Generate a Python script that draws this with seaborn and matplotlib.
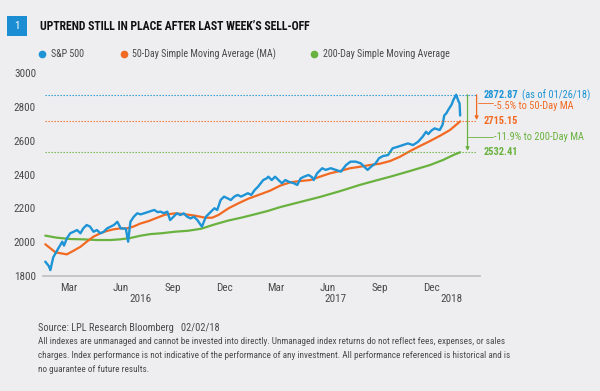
import pandas as pd
import seaborn as sns
import matplotlib.pyplot as plt
from matplotlib.lines import Line2D
from matplotlib.patches import Rectangle
import matplotlib.transforms as mtransforms

# S&P 500
spx_dates = ['2016-02-02', '2016-02-08', '2016-02-11', '2016-02-16', '2016-02-20', '2016-02-25', '2016-03-03',
             '2016-03-06', '2016-03-11', '2016-03-17', '2016-03-23', '2016-03-29', '2016-04-04', '2016-04-09',
             '2016-04-15', '2016-04-21', '2016-04-27', '2016-05-03', '2016-05-09', '2016-05-15', '2016-05-21',
             '2016-05-27', '2016-06-02', '2016-06-08', '2016-06-14', '2016-06-23', '2016-06-27', '2016-07-01',
             '2016-07-07', '2016-07-13', '2016-07-19', '2016-07-25', '2016-08-03', '2016-08-12', '2016-08-18',
             '2016-08-23', '2016-08-29', '2016-09-04', '2016-09-09', '2016-09-15', '2016-09-21', '2016-09-27',
             '2016-10-03', '2016-10-09', '2016-10-15', '2016-10-21', '2016-10-27', '2016-11-04', '2016-11-11',
             '2016-11-17', '2016-11-26', '2016-12-01', '2016-12-07', '2016-12-13', '2016-12-19', '2016-12-25',
             '2016-12-31', '2017-01-06', '2017-01-12', '2017-01-18', '2017-01-24', '2017-01-30', '2017-02-05',
             '2017-02-11', '2017-02-20', '2017-02-26', '2017-03-01', '2017-03-07', '2017-03-13', '2017-03-19',
             '2017-03-25', '2017-03-31', '2017-04-06', '2017-04-15', '2017-04-21', '2017-04-27', '2017-05-03',
             '2017-05-11', '2017-05-17', '2017-05-20', '2017-05-26', '2017-06-04', '2017-06-10', '2017-06-19',
             '2017-06-28', '2017-07-07', '2017-07-16', '2017-07-24', '2017-08-02', '2017-08-11', '2017-08-17',
             '2017-08-23', '2017-08-29', '2017-09-06', '2017-09-12', '2017-09-19', '2017-09-28', '2017-10-06',
             '2017-10-15', '2017-10-24', '2017-11-02', '2017-11-11', '2017-11-20', '2017-11-28', '2017-12-04',
             '2017-12-08', '2017-12-13', '2017-12-19', '2017-12-28', '2018-01-02', '2018-01-05', '2018-01-09',
             '2018-01-12', '2018-01-18', '2018-01-21', '2018-01-26', '2018-01-30', '2018-02-01', '2018-02-02']
spx_values = [1885, 1860, 1835, 1910, 1934, 1964, 2003,
              1980, 2023, 2053, 2062, 2072, 2053, 2082,
              2102, 2092, 2062, 2072, 2053, 2062, 2082,
              2092, 2102, 2121, 2082, 2080, 2003, 2121,
              2151, 2171, 2165, 2171, 2181, 2191, 2178,
              2181, 2172, 2181, 2131, 2151, 2171, 2161,
              2171, 2151, 2141, 2151, 2131, 2092, 2151,
              2171, 2201, 2191, 2250, 2270, 2260, 2250,
              2270, 2280, 2270, 2280, 2290, 2280, 2309,
              2329, 2368, 2378, 2388, 2368, 2388, 2368,
              2349, 2368, 2358, 2349, 2339, 2378, 2388,
              2398, 2385, 2368, 2408, 2438, 2428, 2438,
              2428, 2418, 2457, 2477, 2477, 2467, 2447,
              2428, 2447, 2467, 2497, 2510, 2516, 2556,
              2565, 2575, 2585, 2575, 2595, 2625, 2654,
              2640, 2660, 2674, 2664, 2695, 2750, 2765,
              2783, 2815, 2842, 2873, 2835, 2822, 2750]

# 50-day simple moving average
ma50_dates = ['2016-02-02', '2016-02-20', '2016-03-11', '2016-03-23', '2016-04-04', '2016-04-15', '2016-04-27',
              '2016-05-09', '2016-05-20', '2016-06-01', '2016-06-13', '2016-06-25', '2016-07-06', '2016-07-18',
              '2016-08-02', '2016-08-14', '2016-08-31', '2016-09-18', '2016-10-06', '2016-10-23', '2016-11-10',
              '2016-11-22', '2016-12-03', '2016-12-21', '2017-01-07', '2017-01-25', '2017-02-12', '2017-03-04',
              '2017-03-22', '2017-04-09', '2017-04-26', '2017-05-14', '2017-05-31', '2017-06-18', '2017-07-06',
              '2017-07-23', '2017-08-10', '2017-08-27', '2017-09-14', '2017-10-02', '2017-10-19', '2017-11-06',
              '2017-11-24', '2017-12-11', '2017-12-29', '2018-01-15', '2018-01-27', '2018-02-02']
ma50_values = [1988, 1940, 1928, 1950, 1973, 2003, 2033,
               2053, 2066, 2076, 2082, 2082, 2092, 2110,
               2125, 2141, 2163, 2171, 2165, 2157, 2145,
               2145, 2161, 2201, 2230, 2258, 2280, 2305,
               2335, 2355, 2362, 2368, 2388, 2408, 2422,
               2438, 2447, 2457, 2465, 2481, 2506, 2540,
               2571, 2599, 2631, 2664, 2698, 2715.15]

# 200-day simple moving average
ma200_dates = ['2016-02-02', '2016-02-22', '2016-03-17', '2016-04-09', '2016-05-03', '2016-05-27', '2016-06-13',
               '2016-07-01', '2016-07-18', '2016-08-05', '2016-08-25', '2016-09-17', '2016-10-11', '2016-11-03',
               '2016-11-26', '2016-12-20', '2017-01-12', '2017-02-05', '2017-02-28', '2017-03-22', '2017-04-26',
               '2017-05-31', '2017-07-06', '2017-08-10', '2017-09-14', '2017-10-02', '2017-11-06', '2017-12-11',
               '2018-01-03', '2018-01-21', '2018-02-02']
ma200_values = [2039, 2027, 2019, 2017, 2013, 2013, 2017,
                2025, 2038, 2048, 2053, 2062, 2068, 2080,
                2105, 2128, 2145, 2165, 2185, 2208, 2238,
                2268, 2303, 2340, 2372, 2388, 2422, 2457,
                2487, 2516, 2532.41]

tick_dates = ['2016-03-14', '2016-06-14', '2016-09-14', '2016-12-14',
              '2017-03-14', '2017-06-14', '2017-09-14', '2017-12-14']
tick_labels = ['Mar', 'Jun', 'Sep', 'Dec', 'Mar', 'Jun', 'Sep', 'Dec']
year_dates = ['2016-07-18', '2017-06-28', '2018-01-18']
year_labels = ['2016', '2017', '2018']

last_close = 2872.87
last_ma50 = 2715.15
last_ma200 = 2532.41

BG = '#EEEEF0'
BLUE = '#1E94D6'
ORANGE = '#F26A22'
GREEN = '#6AB23F'
GRAY = '#4A4A4A'

sns.set_theme(style='white')
plt.rcParams['font.family'] = ['Roboto Condensed', 'DejaVu Sans']

fig = plt.figure(figsize=(6, 3.91), dpi=100, facecolor=BG)
ax = fig.add_axes([43 / 600, 1 - 276 / 391, (480 - 43) / 600, (276 - 73.3) / 391])
ax.set_facecolor(BG)

spx = pd.DataFrame({'date': pd.to_datetime(spx_dates), 'value': spx_values})
ma50 = pd.DataFrame({'date': pd.to_datetime(ma50_dates), 'value': ma50_values})
ma200 = pd.DataFrame({'date': pd.to_datetime(ma200_dates), 'value': ma200_values})

sns.lineplot(data=ma200, x='date', y='value', color=GREEN, lw=1.6, ax=ax)
sns.lineplot(data=ma50, x='date', y='value', color=ORANGE, lw=1.6, ax=ax)
sns.lineplot(data=spx, x='date', y='value', color=BLUE, lw=1.7, ax=ax)

ax.set_xlim(pd.Timestamp('2016-01-29'), pd.Timestamp('2018-03-09'))
ax.set_ylim(1800, 3000)

# dotted reference levels
first = pd.Timestamp(spx_dates[0])
ref_end = pd.Timestamp('2018-03-04')
for lvl, col in [(last_close, BLUE), (last_ma50, ORANGE), (last_ma200, GREEN)]:
    ax.plot([first, ref_end], [lvl, lvl], color=col, lw=0.8, ls=(0, (1.2, 1.5)), clip_on=False)

# drop arrows and connectors
ax.annotate('', xy=(pd.Timestamp('2018-03-03'), last_ma50 + 8), xytext=(pd.Timestamp('2018-03-03'), last_close),
            arrowprops=dict(arrowstyle='-|>', color=ORANGE, lw=0.9, mutation_scale=5, shrinkA=0, shrinkB=0),
            annotation_clip=False)
ax.annotate('', xy=(pd.Timestamp('2018-02-15'), last_ma200 + 8), xytext=(pd.Timestamp('2018-02-15'), last_close),
            arrowprops=dict(arrowstyle='-|>', color=GREEN, lw=0.9, mutation_scale=5, shrinkA=0, shrinkB=0),
            annotation_clip=False)
ax.plot([pd.Timestamp('2018-03-05'), pd.Timestamp('2018-04-01')], [2822, 2822], color=ORANGE, lw=0.6, clip_on=False)
ax.plot([pd.Timestamp('2018-02-15'), pd.Timestamp('2018-04-01')], [2625, 2625], color=GREEN, lw=0.6, clip_on=False)

lab_x = pd.Timestamp('2018-03-16')
t_close = ax.text(lab_x, last_close, f'{last_close:.2f}', color=BLUE, fontsize=7.5, fontweight='bold', va='center')
ax.annotate('(as of 01/26/18)', xy=(1, 0.5), xycoords=t_close, xytext=(2, 0), textcoords='offset points',
            color=BLUE, fontsize=7.5, va='center')
ax.text(lab_x, last_ma50, f'{last_ma50:.2f}', color=ORANGE, fontsize=7.5, fontweight='bold', va='center')
ax.text(lab_x, last_ma200, f'{last_ma200:.2f}', color=GREEN, fontsize=7.5, fontweight='bold', va='center')
ax.text(pd.Timestamp('2018-04-02'), 2806, '-5.5% to 50-Day MA', color=ORANGE, fontsize=7.5, va='center')
ax.text(pd.Timestamp('2018-04-02'), 2625, '-11.9% to 200-Day MA', color=GREEN, fontsize=7.5, va='center')

# axes styling
for side in ['top', 'right', 'left']:
    ax.spines[side].set_visible(False)
ax.spines['bottom'].set_color('#BDBDBD')
ax.spines['bottom'].set_linewidth(1.2)
ax.set_yticks([1800, 2000, 2200, 2400, 2600, 2800, 3000])
ax.set_yticklabels(['1800', '2000', '2200', '2400', '2600', '2800', '3000'])
ax.set_xticks(pd.to_datetime(tick_dates))
ax.set_xticklabels(tick_labels)
ax.tick_params(axis='both', length=0, labelsize=8, labelcolor=GRAY)
ax.tick_params(axis='y', pad=5)
ax.tick_params(axis='x', pad=5)
ax.set_xlabel('')
ax.set_ylabel('')
trans = mtransforms.blended_transform_factory(ax.transData, ax.transAxes)
for d, lab in zip(year_dates, year_labels):
    ax.text(pd.Timestamp(d), -0.113, lab, transform=trans, ha='center', va='center', fontsize=8, color=GRAY)

# header
fig.add_artist(Rectangle((7 / 600, 1 - 36 / 391), 20 / 600, 20 / 391, transform=fig.transFigure,
                         facecolor='#1B8ED3', edgecolor='none'))
fig.text(17 / 600, 1 - 26 / 391, '1', color='white', fontsize=8, ha='center', va='center')
fig.text(40 / 600, 1 - 26 / 391, 'UPTREND STILL IN PLACE AFTER LAST WEEK\u2019S SELL-OFF',
         fontsize=8.5, fontweight='bold', color='#111111', va='center')

# legend
for xd, xt, col, lab in [(42, 51, BLUE, 'S&P 500'),
                         (124, 132, ORANGE, '50-Day Simple Moving Average (MA)'),
                         (314, 323, GREEN, '200-Day Simple Moving Average')]:
    fig.add_artist(Line2D([xd / 600], [1 - 54 / 391], transform=fig.transFigure, marker='o', ms=4.5,
                          color=col, ls='none'))
    fig.text(xt / 600, 1 - 54 / 391, lab, fontsize=7.2, color=GRAY, va='center')

# footnotes
fig.text(38 / 600, 1 - 328 / 391, 'Source: LPL Research Bloomberg   02/02/18', fontsize=7.5, color=GRAY, va='center')
notes = ['All indexes are unmanaged and cannot be invested into directly. Unmanaged index returns do not reflect fees, expenses, or sales',
         'charges. Index performance is not indicative of the performance of any investment. All performance referenced is historical and is',
         'no guarantee of future results.']
for i, line in enumerate(notes):
    fig.text(38 / 600, 1 - (341 + 14 * i) / 391, line, fontsize=6.55, color=GRAY, va='center')

plt.savefig('out.png', dpi=100, facecolor=BG)
